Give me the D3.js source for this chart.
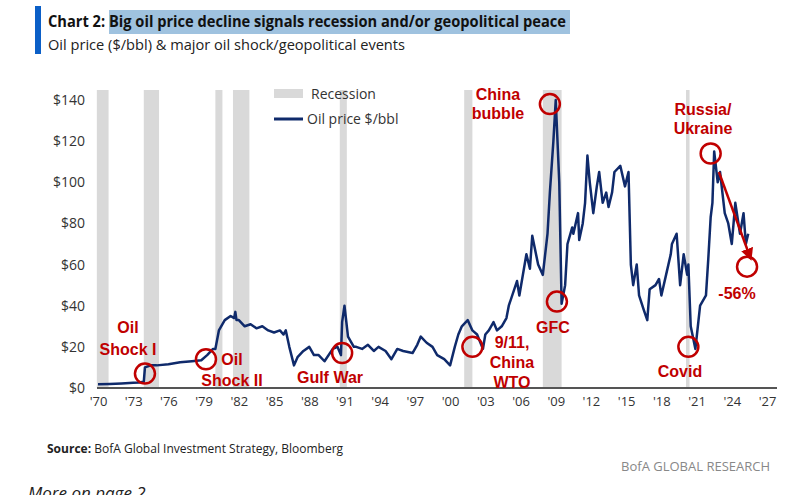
<!DOCTYPE html><html><head><meta charset="utf-8">
<script src="https://cdn.jsdelivr.net/npm/d3@7"></script>
<style>body{margin:0;background:#fff}svg{font-family:"Open Sans","Liberation Sans",sans-serif}</style></head><body>
<svg id="c" width="798" height="495"></svg>
<script>
const yTicks=[0,20,40,60,80,100,120,140];
const xTickYears=[1970,1973,1976,1979,1982,1985,1988,1991,1994,1997,2000,2003,2006,2009,2012,2015,2018,2021,2024,2027];
const recessions=[[1969.9,1970.9],[1973.9,1975.2],[1980.0,1980.6],[1981.5,1982.9],[1990.6,1991.2],[2001.2,2001.9],[2007.9,2009.5],[2020.1,2020.4]];
const oilYears=[1970,1971,1972,1973,1973.5,1973.9,1974.0,1974.5,1975,1976,1977,1978,1978.8,1979.3,1979.8,1980.0,1980.3,1980.8,1981.3,1981.6,1981.7,1981.8,1982,1982.5,1983,1983.5,1984,1984.5,1985,1985.5,1985.8,1986.0,1986.3,1986.7,1987,1987.5,1988,1988.4,1988.8,1989.3,1990,1990.4,1990.7,1990.8,1991.0,1991.3,1991.8,1992,1992.5,1993,1993.5,1993.9,1994.5,1995,1995.5,1996,1996.8,1997.2,1997.5,1998,1998.5,1998.9,1999.5,2000,2000.4,2000.7,2001,2001.5,2001.9,2002.3,2002.8,2003,2003.3,2003.7,2004,2004.4,2004.8,2005,2005.7,2005.9,2006.5,2006.8,2007,2007.5,2007.9,2008.3,2008.5,2008.8,2009.0,2009.3,2009.5,2009.8,2010,2010.4,2010.5,2010.9,2011,2011.3,2011.5,2011.7,2011.9,2012.2,2012.5,2012.7,2013,2013.3,2013.5,2013.8,2014,2014.5,2014.9,2015.2,2015.4,2015.6,2015.9,2016.1,2016.5,2016.8,2017,2017.5,2017.8,2018,2018.4,2018.8,2018.9,2019.3,2019.6,2019.9,2020.2,2020.3,2020.5,2020.9,2021.3,2021.8,2022.0,2022.2,2022.35,2022.5,2022.8,2023.0,2023.4,2023.7,2024.0,2024.3,2024.7,2025.0,2025.2,2025.4];
const oilPrices=[1.8,2.0,2.2,2.5,2.7,3,10,11,11,11.5,12.5,13,13.5,16,19,19,28,33,35,34,37,33,33,30,31,29,30,28,27,28,26,28,20,11,15,18,20,16,16,13,19,20,16,32,40,25,20,20,19,21,18,20,18,14,19,18,17,21,25,22,20,16,14,11,20,26,30,33,28,26,19,26,28,32,28,30,34,40,52,45,65,58,74,60,55,75,95,120,140,100,41,50,70,78,75,85,72,80,90,113,100,85,98,105,90,95,88,95,105,108,98,105,60,50,60,45,38,33,48,50,53,45,55,65,70,75,50,65,55,60,30,19,40,45,63,83,90,115,100,105,85,80,70,90,75,85,70,75,65,60];
const events=[{t:["Oil","Shock I"],y:1974,v:7,lx:128,ly:[333,355]},{t:["Oil","Shock II"],y:1979.2,v:14,lx:232,ly:[365,386]},{t:["Gulf War"],y:1990.8,v:17,lx:330,ly:[383]},{t:["9/11,","China","WTO"],y:2001.9,v:20,lx:512,ly:[348,368,388]},{t:["China","bubble"],y:2008.5,v:138,lx:498,ly:[100,119]},{t:["GFC"],y:2009.1,v:42,lx:553,ly:[333]},{t:["Covid"],y:2020.3,v:20,lx:680,ly:[377]},{t:["Russia/","Ukraine"],y:2022.2,v:114,lx:703,ly:[115,134]},{t:["-56%"],y:2025.3,v:59,lx:737,ly:[299]}];

const svg=d3.select("#c");
const x=d3.scaleLinear().domain([1970,2027]).range([98,767]);
const y=d3.scaleLinear().domain([0,140]).range([388,100]);
svg.append("rect").attr("x",35).attr("y",6).attr("width",6).attr("height",48).attr("fill","#0b5fc7");
svg.append("rect").attr("x",109).attr("y",10).attr("width",461).attr("height",24).attr("fill","#9fc2df");
svg.append("text").attr("x",48).attr("y",27).attr("font-weight","bold").attr("fill","#111").attr("font-size",16.5)
 .attr("textLength",518).attr("lengthAdjust","spacingAndGlyphs")
 .text("Chart 2: Big oil price decline signals recession and/or geopolitical peace");
svg.append("text").attr("x",48).attr("y",50).attr("font-size",14.5).attr("fill","#222").attr("textLength",357).attr("lengthAdjust","spacingAndGlyphs").text("Oil price ($/bbl) & major oil shock/geopolitical events");
svg.append("g").selectAll("rect").data(recessions).join("rect")
 .attr("x",d=>x(d[0])).attr("width",d=>x(d[1])-x(d[0])).attr("y",90).attr("height",388-90).attr("fill","#d9d9d9");
const ya=svg.append("g").attr("transform","translate(88,0)").call(d3.axisLeft(y).tickValues(yTicks).tickSize(0).tickFormat(d=>"$"+d));
ya.select(".domain").remove();ya.selectAll("text").attr("font-size",14).attr("fill","#333").attr("font-family","Open Sans, sans-serif");
const xa=svg.append("g").attr("transform","translate(0,388)").call(d3.axisBottom(x).tickValues(xTickYears).tickSize(0).tickPadding(9).tickFormat(d=>"'"+String(d).slice(2)));
xa.select(".domain").attr("d","M97,0H777").attr("stroke","#555").attr("stroke-width",2);
xa.selectAll("text").attr("font-size",13).attr("fill","#333").attr("font-family","Open Sans, sans-serif");
const pts=oilYears.map((d,i)=>[d,oilPrices[i]]);
svg.append("path").datum(pts).attr("fill","none").attr("stroke","#0f2a6b").attr("stroke-width",2.5).attr("stroke-linejoin","round")
 .attr("d",d3.line().x(d=>x(d[0])).y(d=>y(d[1])));
svg.append("rect").attr("x",274).attr("y",89).attr("width",29).attr("height",9).attr("fill","#d9d9d9");
svg.append("text").attr("x",311).attr("y",99).attr("font-size",14).attr("fill","#333").text("Recession");
svg.append("line").attr("x1",274).attr("x2",303).attr("y1",119).attr("y2",119).attr("stroke","#0f2a6b").attr("stroke-width",3);
svg.append("text").attr("x",307).attr("y",124).attr("font-size",14).attr("fill","#333").text("Oil price $/bbl");
const red="#c00000";
events.forEach(e=>{
 svg.append("circle").attr("cx",x(e.y)).attr("cy",y(e.v)).attr("r",10).attr("fill","none").attr("stroke",red).attr("stroke-width",2.5);
 e.t.forEach((s,i)=>svg.append("text").attr("x",e.lx).attr("y",e.ly[i]).attr("text-anchor","middle").attr("font-size",16).attr("font-weight","bold").attr("fill",red).attr("font-family","Liberation Sans Narrow, sans-serif").text(s));
});
svg.append("defs").append("marker").attr("id","ar").attr("viewBox","0 0 10 10").attr("refX",8).attr("refY",5).attr("markerWidth",5).attr("markerHeight",5).attr("orient","auto")
 .append("path").attr("d","M0,0L10,5L0,10z").attr("fill",red);
svg.append("line").attr("x1",x(2022.9)).attr("y1",y(105)).attr("x2",x(2025.6)).attr("y2",y(63)).attr("stroke",red).attr("stroke-width",2.5).attr("marker-end","url(#ar)");
const f=svg.append("text").attr("x",47).attr("y",453).attr("font-size",12).attr("fill","#222");
f.append("tspan").attr("font-weight","bold").text("Source: ");f.append("tspan").text("BofA Global Investment Strategy, Bloomberg");
svg.append("text").attr("x",770).attr("y",471).attr("text-anchor","end").attr("font-size",13).attr("fill","#888").text("BofA GLOBAL RESEARCH");
svg.append("text").attr("x",28).attr("y",499).attr("font-size",17).attr("font-style","italic").attr("fill","#222").text("More on page 2");
</script></body></html>
